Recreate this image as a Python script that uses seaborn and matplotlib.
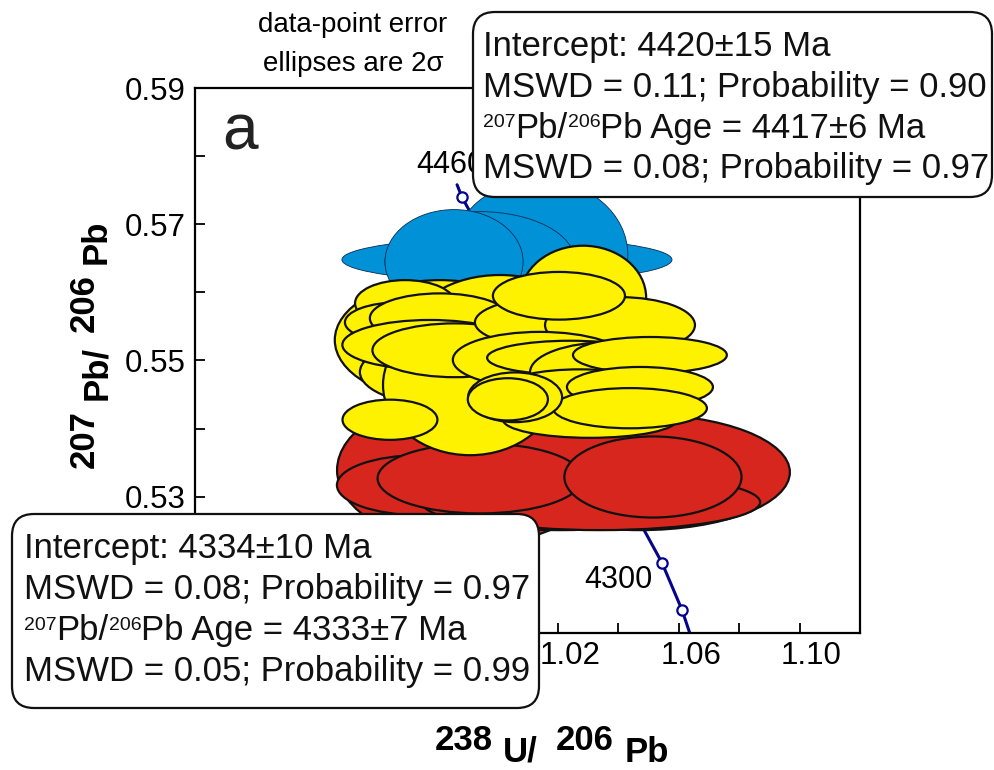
# Tera-Wasserburg concordia plot, panel a

import numpy as np
import matplotlib
matplotlib.use("Agg")
import matplotlib.pyplot as plt
import seaborn as sns
from matplotlib.patches import Ellipse, FancyBboxPatch
from matplotlib.transforms import ScaledTranslation

# concordia trace (238U/206Pb, 207Pb/206Pb)
conc_x = [0.9867, 0.9883, 1.0545, 1.0611, 1.0661]
conc_y = [0.5758, 0.5740, 0.5203, 0.5134, 0.5068]
age_marks = [4460, 4300, 4280]
age_x = [0.9883, 1.0545, 1.0611]
age_y = [0.5740, 0.5203, 0.5134]

# error ellipses (2 sigma): centre x, centre y, full width, full height
blue_x = [1.0032, 1.0141, 0.9943, 0.9857]
blue_y = [0.5648, 0.5655, 0.5645, 0.5645]
blue_w = [0.1092, 0.0582, 0.0629, 0.0457]
blue_h = [0.0065, 0.0220, 0.0147, 0.0153]

yellow_x = [0.9810, 1.0009, 1.0284, 0.9860, 0.9910, 0.9695, 0.9678, 0.9810,
            0.9777, 0.9860, 0.9645, 1.0207, 1.0406, 1.0141, 1.0241, 1.0373,
            1.0505, 1.0274, 1.0472, 1.0340, 1.0307, 1.0439, 1.0059, 1.0035,
            1.0204]
yellow_y = [0.5530, 0.5545, 0.5592, 0.5483, 0.5464, 0.5584, 0.5556, 0.5562,
            0.5523, 0.5515, 0.5413, 0.5556, 0.5552, 0.5501, 0.5504, 0.5483,
            0.5508, 0.5463, 0.5461, 0.5420, 0.5413, 0.5430, 0.5446, 0.5443,
            0.5595]
yellow_w = [0.0695, 0.0579, 0.0417, 0.0629, 0.0576, 0.0331, 0.0364, 0.0463,
            0.0579, 0.0546, 0.0314, 0.0562, 0.0496, 0.0576, 0.0549, 0.0529,
            0.0509, 0.0483, 0.0483, 0.0549, 0.0576, 0.0509, 0.0311, 0.0265,
            0.0437]
yellow_h = [0.0176, 0.0161, 0.0153, 0.0103, 0.0206, 0.0068, 0.0059, 0.0073,
            0.0073, 0.0079, 0.0059, 0.0076, 0.0082, 0.0082, 0.0050, 0.0088,
            0.0053, 0.0048, 0.0059, 0.0044, 0.0053, 0.0059, 0.0073, 0.0062,
            0.0070]

red_x = [0.9910, 0.9744, 1.0472, 1.0207, 1.0340, 0.9943, 1.0515]
red_y = [0.5339, 0.5317, 0.5336, 0.5295, 0.5292, 0.5327, 0.5329]
red_w = [0.0880, 0.0549, 0.0992, 0.0926, 0.1059, 0.0678, 0.0586]
red_h = [0.0220, 0.0088, 0.0170, 0.0088, 0.0082, 0.0103, 0.0119]

x_major = [0.90, 0.94, 0.98, 1.02, 1.06, 1.10]
x_minor = [0.92, 0.96, 1.00, 1.04, 1.08, 1.12]
y_major = [0.51, 0.53, 0.55, 0.57, 0.59]
y_minor = [0.52, 0.54, 0.56, 0.58]
# labels lying under the lower result box are not drawn
x_labels = ["", "", "", "1.02", "1.06", "1.10"]
y_labels = ["", "0.53", "0.55", "0.57", "0.59"]

# each box line is a list of (text, superscript?) runs
upper_box = [[("Intercept: 4420±15 Ma", False)],
             [("MSWD = 0.11; Probability = 0.90", False)],
             [("207", True), ("Pb/", False), ("206", True),
              ("Pb Age = 4417±6 Ma", False)],
             [("MSWD = 0.08; Probability = 0.97", False)]]
lower_box = [[("Intercept: 4334±10 Ma", False)],
             [("MSWD = 0.08; Probability = 0.97", False)],
             [("207", True), ("Pb/", False), ("206", True),
              ("Pb Age = 4333±7 Ma", False)],
             [("MSWD = 0.05; Probability = 0.99", False)]]

BLUE = "#0091d6"
YELLOW = "#fff200"
RED = "#d6261e"
NAVY = "#05058c"

sns.set_theme(style="ticks")
plt.rcParams["font.family"] = ["Liberation Sans", "DejaVu Sans"]
for key in ["text.color", "axes.labelcolor", "xtick.color", "ytick.color",
            "axes.edgecolor"]:
    plt.rcParams[key] = "black"

fig = plt.figure(figsize=(9.94, 7.70), dpi=100)
ax = fig.add_axes([195 / 994, 1 - 633 / 770, 665 / 994, 545 / 770])
inch = fig.dpi_scale_trans
renderer = fig.canvas.get_renderer()

# concordia curve and age marks
sns.lineplot(x=conc_x, y=conc_y, sort=False, color=NAVY, lw=2.2, ax=ax, zorder=2)
sns.scatterplot(x=age_x, y=age_y, ax=ax, s=55, color="white", edgecolor=NAVY,
                linewidth=1.6, zorder=2.5)


def add_ellipses(xs, ys, ws, hs, fc, ec, lw, z):
    for x, y, w, h in zip(xs, ys, ws, hs):
        ax.add_patch(Ellipse((x, y), w, h, fc=fc, ec=ec, lw=lw, zorder=z))


add_ellipses(red_x, red_y, red_w, red_h, RED, "#111111", 1.6, 3)
add_ellipses(blue_x, blue_y, blue_w, blue_h, BLUE, "#0b2a55", 0.6, 3.1)
add_ellipses(yellow_x, yellow_y, yellow_w, yellow_h, YELLOW, "#111111", 1.6, 3.2)

ax.text(age_x[0] - 0.015, age_y[0] + 0.0035, str(age_marks[0]), fontsize=22,
        ha="left", va="baseline", zorder=4)
ax.text(age_x[1] - 0.0030, age_y[1] - 0.0037, str(age_marks[1]), fontsize=22,
        ha="right", va="baseline", zorder=4)
ax.text(0.9089, 0.5809, "a", fontsize=46, ha="left", va="baseline", color="#222222")

ax.set_xlim(0.90, 1.12)
ax.set_ylim(0.51, 0.59)
ax.set_xticks(x_major, labels=x_labels)
ax.set_xticks(x_minor, minor=True)
ax.set_yticks(y_major, labels=y_labels)
ax.set_yticks(y_minor, minor=True)
ax.tick_params(which="both", direction="in", length=7, width=1.3,
               top=False, right=False)
ax.tick_params(axis="x", labelsize=22.5, pad=6)
ax.tick_params(axis="y", labelsize=22.5, pad=7)
for lbl in ax.get_xticklabels():
    lbl.set_transform(lbl.get_transform() + ScaledTranslation(0.12, 0, inch))
for side in ax.spines.values():
    side.set_visible(True)
    side.set_linewidth(1.6)

# axis titles with lowered element symbols
for txt, xi, yi in [("238", 4.35, 0.20), ("U/", 5.03, 0.08),
                    ("206", 5.56, 0.20), ("Pb", 6.25, 0.08)]:
    fig.text(xi, yi, txt, transform=inch, fontsize=25, fontweight="bold",
             ha="left", va="baseline")
for txt, xi, yi in [("207", 0.94, 3.02), ("Pb/", 1.06, 3.70),
                    ("206", 0.94, 4.38), ("Pb", 1.06, 5.06)]:
    fig.text(xi, yi, txt, transform=inch, fontsize=25, fontweight="bold",
             rotation=90, rotation_mode="anchor", ha="left", va="baseline")

fig.text(3.53, 7.38, "data-point error", transform=inch, fontsize=20,
         ha="center", va="baseline")
fig.text(3.53, 6.99, "ellipses are 2σ", transform=inch, fontsize=20,
         ha="center", va="baseline")


def write_runs(x, y, runs):
    # lay text runs side by side, small raised digits for isotope masses
    for txt, is_sup in runs:
        size, dy = (14, 0.105) if is_sup else (25, 0.0)
        t = fig.text(x, y + dy, txt, transform=inch, fontsize=size,
                     ha="left", va="baseline", color="#111111")
        x += t.get_window_extent(renderer).width / fig.dpi


# result boxes
for (x0, y0, w, h), lines, tx, base in [
        ((4.73, 5.73, 5.19, 1.85), upper_box, 4.83, [56, 97, 138, 178]),
        ((0.12, 0.62, 5.27, 1.94), lower_box, 0.24, [558, 599, 640, 681])]:
    fig.add_artist(FancyBboxPatch((x0, y0), w, h, transform=inch,
                                  boxstyle="round,pad=0,rounding_size=0.22",
                                  fc="white", ec="#111111", lw=1.6))
    for runs, b in zip(lines, base):
        write_runs(tx, (770 - b) / 100, runs)

fig.savefig("out.png", dpi=100)
